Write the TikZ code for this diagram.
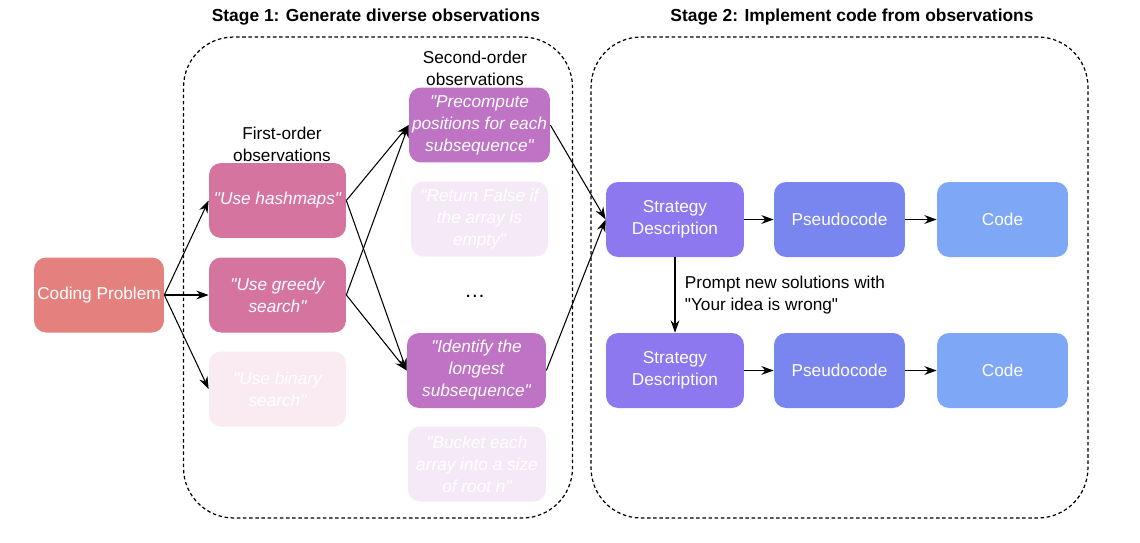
\documentclass[tikz,border=0pt]{standalone}
\usepackage{fontspec}
\setmainfont{Liberation Sans}
\usepackage{xcolor}
\definecolor{probred}{HTML}{E4817F}
\definecolor{firstpink}{HTML}{D674A0}
\definecolor{fadepink}{HTML}{FAEAF1}
\definecolor{secondmag}{HTML}{BF73C4}
\definecolor{fadelav}{HTML}{F5E9F7}
\definecolor{stratpurple}{HTML}{8D78F0}
\definecolor{pseudoblue}{HTML}{7A86EF}
\definecolor{codeblue}{HTML}{7EA7F6}
\usetikzlibrary{arrows.meta,positioning}
\newcommand{\qt}[1]{\textquotedbl #1\textquotedbl}

\begin{document}
\begin{tikzpicture}[x=0.02cm, y=-0.02cm,
    box/.style={rectangle, rounded corners=0.24cm, text=white, minimum width=2.74cm, minimum height=1.5cm, align=center, inner sep=1pt, font=\fontsize{9.8}{12.5}\selectfont},
    obs/.style={box, font=\fontsize{9.8}{12.5}\selectfont\itshape},
    stagebox/.style={rectangle, draw=black, rounded corners=1cm, dash pattern=on 2pt off 1.5pt, line width=0.7pt, minimum height=9.62cm},
    lbl/.style={font=\fontsize{9.8}{12.5}\selectfont, align=center},
    ttl/.style={font=\fontsize{9.9}{12}\selectfont\bfseries},
    arr/.style={-{Stealth[length=7pt, width=5pt]}, line width=0.6pt},
  ]
    \useasboundingbox (0,0) rectangle (1140,542);
    \node[stagebox, minimum width=7.78cm] (st1) at (378,277.5) {};
    \node[stagebox, minimum width=9.94cm] (st2) at (839.5,277.5) {};
    \node[ttl] (t1) at (376,17) {Stage 1: Generate diverse observations};
    \node[ttl] (t2) at (852,17) {Stage 2: Implement code from observations};

    \node[box, fill=probred, minimum width=2.6cm] (prob) at (99,295) {Coding Problem};

    \node[lbl] (fol) at (282,144) {First-order\\observations};
    \node[obs, fill=firstpink] (fo1) at (277.5,200.5) {\qt{Use hashmaps}};
    \node[obs, fill=firstpink] (fo2) at (277.5,295) {\textquotedbl Use greedy\\search\textquotedbl};
    \node[obs, fill=fadepink] (fo3) at (277.5,389) {\textquotedbl Use binary\\search\textquotedbl};

    \node[lbl] (sol) at (475,68) {Second-order\\observations};
    \node[obs, fill=secondmag, minimum width=2.82cm] (so1) at (479.5,125) {\textquotedbl Precompute\\positions for each\\subsequence\textquotedbl};
    \node[obs, fill=fadelav] (so2) at (479.5,219) {\textquotedbl Return False if\\the array is\\empty\textquotedbl};
    \node[lbl, font=\fontsize{12}{12}\selectfont] (dots) at (475,296) {\dots};
    \node[obs, fill=secondmag, minimum width=2.78cm] (so3) at (476.5,370.5) {\textquotedbl Identify the\\longest\\subsequence\textquotedbl};
    \node[obs, fill=fadelav, minimum width=2.76cm] (so4) at (477,464) {\textquotedbl Bucket each\\array into a size\\of root n\textquotedbl};

    \node[box, fill=stratpurple, minimum width=2.76cm] (sd1) at (675,219.5) {Strategy\\Description};
    \node[box, fill=pseudoblue, minimum width=2.62cm] (pc1) at (839.5,219.5) {Pseudocode};
    \node[box, fill=codeblue, minimum width=2.62cm] (cd1) at (1002.5,219.5) {Code};
    \node[box, fill=stratpurple, minimum width=2.76cm] (sd2) at (675,370.5) {Strategy\\Description};
    \node[box, fill=pseudoblue, minimum width=2.62cm] (pc2) at (839.5,370.5) {Pseudocode};
    \node[box, fill=codeblue, minimum width=2.62cm] (cd2) at (1002.5,370.5) {Code};

    \draw[arr] (prob.east) -- (fo1.west);
    \draw[arr] (prob.east) -- (fo2.west);
    \draw[arr] (prob.east) -- (fo3.west);
    \draw[arr] (fo1.east) -- (so1.west);
    \draw[arr] (fo1.east) -- (so3.west);
    \draw[arr] (fo2.east) -- (so1.west);
    \draw[arr] (fo2.east) -- (so3.west);
    \draw[arr] (so1.east) -- (sd1.west);
    \draw[arr] (so3.east) -- (sd1.west);
    \draw[arr] (sd1) -- (pc1);
    \draw[arr] (pc1) -- (cd1);
    \draw[arr] (sd2) -- (pc2);
    \draw[arr] (pc2) -- (cd2);
    \draw[arr] (sd1) -- node[lbl, right, align=left, xshift=2pt] {Prompt new solutions with\\\textquotedbl Your idea is wrong\textquotedbl} (sd2);
  \end{tikzpicture}
\end{document}
